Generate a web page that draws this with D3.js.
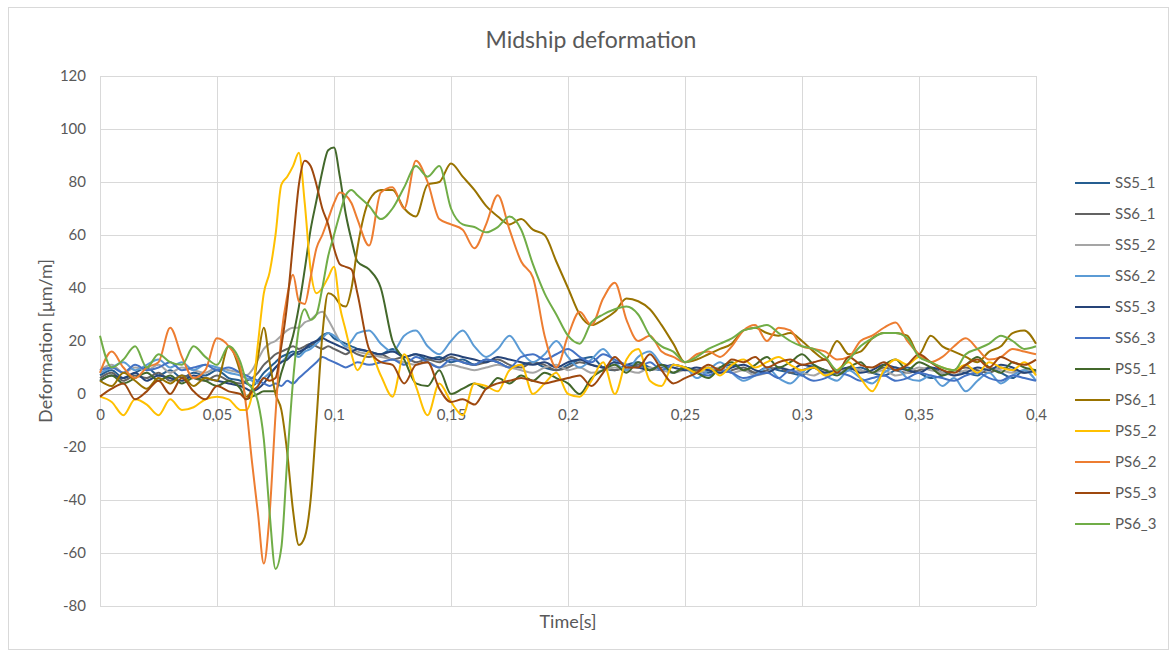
<!DOCTYPE html>
<html>
<head>
<meta charset="utf-8">
<script src="https://cdn.jsdelivr.net/npm/d3@7"></script>
<style>
  body { margin: 0; background: #fff; }
  svg { display: block; font-family: Lato, "Open Sans", sans-serif; }
  .tick text { fill: #595959; }
</style>
</head>
<body>
<svg id="chart" width="1169" height="651"></svg>
<script>
// sample times [s]
const time = [0, 0.005, 0.01, 0.015, 0.02, 0.025, 0.03, 0.035, 0.04, 0.045, 0.05, 0.055, 0.06,
  0.0625, 0.065, 0.0675, 0.07, 0.0725, 0.075, 0.0775, 0.08, 0.0825, 0.085, 0.0875, 0.09, 0.0925, 0.095, 0.0975, 0.1, 0.1025, 0.105, 0.1075, 0.11,
  0.115, 0.12, 0.125, 0.13, 0.135, 0.14, 0.145, 0.15, 0.155, 0.16, 0.165, 0.17, 0.175, 0.18, 0.185, 0.19, 0.195, 0.2, 0.205, 0.21, 0.215, 0.22, 0.225, 0.23, 0.235, 0.24, 0.245, 0.25,
  0.255, 0.26, 0.265, 0.27, 0.275, 0.28, 0.285, 0.29, 0.295, 0.3, 0.305, 0.31, 0.315, 0.32, 0.325, 0.33, 0.335, 0.34, 0.345, 0.35, 0.355, 0.36, 0.365, 0.37, 0.375, 0.38, 0.385, 0.39, 0.395, 0.4];

// deformation [um/m], one value per sample time
const ss5_1 = [7, 9, 6, 8, 10, 7, 9, 6, 8, 7, 9, 6, 5,
  4, 3, 5, 8, 10, 12, 14, 15, 16, 15, 17, 18, 20, 22, 23, 21, 20, 19, 18, 17,
  16, 15, 17, 14, 15, 13, 14, 12, 13, 11, 13, 12, 10, 11, 12, 10, 9, 11, 13, 14, 10, 9, 11, 12, 10, 9, 11, 10,
  9, 8, 10, 11, 9, 8, 10, 9, 8, 7, 10, 9, 8, 9, 10, 8, 7, 9, 10, 8, 6, 7, 9, 8, 7, 10, 8, 6, 9, 8];
const ss6_1 = [6, 8, 5, 7, 6, 8, 5, 7, 6, 5, 7, 5, 4,
  5, 6, 8, 11, 13, 15, 16, 17, 18, 17, 18, 19, 18, 17, 18, 17, 16, 15, 16, 15,
  14, 15, 13, 14, 12, 13, 12, 14, 12, 11, 12, 13, 11, 10, 12, 11, 9, 10, 12, 11, 10, 9, 10, 11, 9, 10, 11, 10,
  9, 10, 8, 9, 10, 8, 9, 10, 8, 9, 10, 9, 8, 10, 9, 8, 10, 9, 8, 9, 10, 8, 9, 10, 9, 8, 10, 9, 8, 9];
const ss5_2 = [9, 11, 8, 10, 9, 11, 8, 10, 9, 8, 10, 9, 8,
  7, 9, 13, 17, 19, 20, 22, 24, 25, 25, 27, 28, 30, 31, 28, 24, 20, 18, 17, 16,
  15, 14, 13, 12, 11, 12, 10, 11, 10, 9, 10, 11, 10, 9, 8, 10, 11, 9, 10, 8, 9, 10, 9, 8, 10, 9, 8, 9,
  8, 9, 10, 8, 9, 7, 8, 10, 9, 8, 7, 9, 8, 10, 9, 8, 9, 7, 8, 10, 9, 8, 7, 9, 8, 10, 9, 8, 9, 8];
const ss6_2 = [8, 10, 12, 9, 11, 13, 10, 12, 9, 11, 10, 8, 7,
  6, 5, 4, 6, 8, 10, 12, 14, 15, 14, 16, 17, 19, 21, 23, 22, 20, 18, 20, 23,
  24, 19, 16, 22, 24, 18, 15, 20, 24, 18, 14, 17, 22, 16, 12, 15, 20, 14, 10, 13, 17, 12, 9, 14, 16, 11, 8, 10,
  6, 9, 12, 8, 5, 7, 10, 6, 4, 8, 11, 7, 5, 9, 6, 4, 8, 10, 6, 5, 7, 3, 6, 1, 5, 8, 4, 7, 9, 5];
const ss5_3 = [5, 7, 6, 8, 5, 7, 6, 5, 7, 6, 5, 4, 3,
  2, 1, 2, 4, 7, 10, 12, 13, 15, 16, 17, 19, 20, 21, 20, 19, 18, 17, 16, 17,
  16, 15, 16, 14, 15, 14, 13, 15, 14, 13, 12, 14, 13, 12, 11, 12, 10, 12, 13, 11, 10, 12, 11, 10, 9, 11, 10, 9,
  10, 9, 8, 10, 11, 9, 8, 10, 9, 11, 10, 8, 9, 10, 8, 9, 11, 10, 9, 8, 10, 9, 7, 8, 10, 9, 11, 10, 8, 9];
const ss6_3 = [9, 10, 8, 11, 9, 10, 12, 9, 10, 11, 9, 10, 8,
  7, 6, 5, 4, 3, 4, 3, 5, 4, 6, 8, 10, 12, 14, 13, 12, 11, 10, 11, 12,
  11, 12, 13, 11, 14, 12, 10, 13, 12, 11, 13, 12, 10, 14, 15, 13, 15, 17, 14, 12, 15, 13, 11, 10, 12, 9, 11, 10,
  8, 7, 9, 8, 6, 7, 8, 6, 9, 7, 5, 6, 8, 7, 5, 6, 7, 5, 6, 8, 7, 6, 5, 7, 8, 6, 5, 7, 6, 5];
const ps5_1 = [5, 7, 4, 6, 8, 5, 7, 4, 6, 5, 3, 5, 2,
  -2, -1, 0, 1, 1, 1, 8, 15, 22, 33, 47, 62, 73, 84, 92, 93, 82, 68, 58, 50,
  47, 40, 20, 13, 4, 3, 9, 0, 2, 4, 2, 6, 4, 7, 5, 8, 6, 4, 0, 6, 9, 11, 8, 12, 9, 11, 8, 10,
  8, 6, 10, 12, 9, 11, 14, 10, 12, 15, 11, 9, 7, 10, 12, 8, 11, 13, 9, 12, 10, 7, 9, 11, 14, 10, 8, 12, 10, 9];
const ps6_1 = [5, 3, 8, 5, 2, 6, 4, 7, 3, 6, 5, 18, 8,
  -1, 2, 14, 25, 12, 0, -6, -22, -44, -57, -54, -40, -10, 22, 38, 37, 34, 33, 40, 55,
  73, 77, 77, 70, 67, 79, 80, 87, 82, 77, 71, 67, 64, 66, 62, 60, 50, 40, 30, 26, 28, 31, 36, 35, 32, 26, 19, 12,
  13, 15, 17, 19, 24, 25, 23, 22, 23, 20, 16, 13, 20, 15, 16, 21, 23, 23, 22, 15, 22, 18, 16, 14, 12, 16, 18, 23, 24, 19];
const ps5_2 = [-1, -3, -8, -2, -4, -8, -2, -6, -5, -2, -1, -2, -6,
  -6, 0, 19, 38, 46, 60, 79, 82, 86, 91, 72, 47, 38, 40, 44, 48, 33, 24, 15, 9,
  16, 7, -1, 15, 3, -8, 4, -3, -8, 4, 3, 1, 9, 11, 0, 4, 8, 0, -1, 5, 12, 0, 13, 17, 5, 3, 11, 10,
  8, 10, 7, 11, 13, 10, 12, 14, 11, 9, 10, 7, 9, 12, 6, 1, 9, 13, 11, 14, 12, 10, 9, 11, 8, 12, 10, 9, 12, 7];
const ps6_2 = [8, 16, 10, 6, 10, 12, 25, 14, 6, 9, 21, 18, 10,
  -5, -26, -45, -64, -45, -8, 22, 37, 45, 35, 34, 44, 55, 60, 66, 72, 76, 75, 72, 66,
  56, 76, 78, 70, 88, 80, 66, 64, 62, 55, 64, 75, 62, 50, 44, 22, 10, 22, 31, 26, 36, 42, 28, 20, 22, 16, 14, 12,
  15, 16, 14, 18, 24, 26, 20, 25, 24, 18, 17, 16, 13, 14, 20, 22, 25, 27, 20, 15, 12, 14, 18, 21, 17, 13, 14, 17, 16, 15];
const ps5_3 = [-1, 2, 4, -2, 1, 5, 0, 6, 1, -2, 3, 1, 0,
  -2, 1, 3, 6, 5, 6, 18, 34, 57, 79, 88, 86, 79, 70, 64, 55, 49, 48, 47, 38,
  17, 12, 11, 4, 11, 12, 2, -3, -2, -4, 2, 4, 5, 6, 5, 4, 5, 6, 7, 3, 8, 14, 10, 10, 15, 9, 4, 6,
  8, 11, 9, 13, 12, 14, 10, 12, 13, 11, 12, 13, 8, 14, 11, 10, 12, 9, 11, 15, 12, 9, 8, 11, 13, 10, 14, 12, 11, 13];
const ps6_3 = [22, 10, 13, 18, 10, 15, 12, 11, 18, 14, 11, 18, 12,
  5, 2, -3, -17, -45, -66, -58, -25, 5, 25, 32, 28, 30, 40, 52, 60, 68, 75, 77, 75,
  71, 66, 70, 78, 86, 82, 86, 70, 64, 63, 61, 63, 67, 62, 49, 38, 30, 22, 19, 27, 30, 32, 33, 30, 22, 18, 16, 12,
  14, 17, 19, 21, 24, 25, 26, 23, 20, 18, 17, 14, 9, 13, 18, 21, 23, 23, 21, 14, 12, 10, 9, 15, 17, 19, 22, 20, 17, 18];

const seriesNames = ['SS5_1', 'SS6_1', 'SS5_2', 'SS6_2', 'SS5_3', 'SS6_3', 'PS5_1', 'PS6_1', 'PS5_2', 'PS6_2', 'PS5_3', 'PS6_3'];
const seriesValues = [ss5_1, ss6_1, ss5_2, ss6_2, ss5_3, ss6_3, ps5_1, ps6_1, ps5_2, ps6_2, ps5_3, ps6_3];
const seriesColors = ['#255E91', '#636363', '#A5A5A5', '#5B9BD5', '#264478', '#4472C4',
  '#43682B', '#997300', '#FFC000', '#ED7D31', '#9E480E', '#70AD47'];

const xTicks = [0, 0.05, 0.1, 0.15, 0.2, 0.25, 0.3, 0.35, 0.4];
const yTicks = [-80, -60, -40, -20, 0, 20, 40, 60, 80, 100, 120];

const svg = d3.select('#chart');
const plot = { left: 100, right: 1036, top: 76, bottom: 606 };

const x = d3.scaleLinear().domain([0, 0.4]).range([plot.left, plot.right]);
const y = d3.scaleLinear().domain([-80, 120]).range([plot.bottom, plot.top]);

// decimal comma and plain hyphen minus, like the source workbook
const fmt = d3.formatLocale({ decimal: ',', thousands: '.', grouping: [3], currency: ['', ''], minus: '-' }).format('~g');

// chart frame
svg.append('rect')
  .attr('x', 8.5).attr('y', 7.5)
  .attr('width', 1160).attr('height', 642)
  .attr('fill', 'none')
  .attr('stroke', '#d9d9d9');

svg.append('text')
  .attr('x', 591).attr('y', 48)
  .attr('text-anchor', 'middle')
  .attr('font-size', 23)
  .attr('fill', '#595959')
  .text('Midship deformation');

// grid
const grid = svg.append('g').attr('stroke', '#d9d9d9').attr('stroke-width', 1);
grid.selectAll('line.v')
  .data(xTicks)
  .enter()
  .append('line')
  .attr('x1', d => Math.round(x(d)) + 0.5).attr('x2', d => Math.round(x(d)) + 0.5)
  .attr('y1', plot.top).attr('y2', plot.bottom);
grid.selectAll('line.h')
  .data(yTicks)
  .enter()
  .append('line')
  .attr('x1', plot.left).attr('x2', plot.right)
  .attr('y1', d => Math.round(y(d)) + 0.5).attr('y2', d => Math.round(y(d)) + 0.5);

// axes
const yAxis = svg.append('g')
  .attr('transform', `translate(${plot.left},0)`)
  .call(d3.axisLeft(y).tickValues(yTicks).tickSize(0).tickPadding(14).tickFormat(fmt));
yAxis.select('.domain').remove();
yAxis.selectAll('text').attr('font-size', 15).attr('font-family', 'Lato, sans-serif');

const xAxis = svg.append('g')
  .attr('transform', `translate(0,${y(0)})`)
  .call(d3.axisBottom(x).tickValues(xTicks).tickSize(0).tickPadding(15).tickFormat(fmt));
xAxis.select('.domain').attr('stroke', '#bfbfbf');
xAxis.selectAll('text').attr('font-size', 15).attr('font-family', 'Lato, sans-serif');

// series
const line = d3.line()
  .x((d, i) => x(time[i]))
  .y(d => y(d))
  .curve(d3.curveMonotoneX);

svg.append('g')
  .attr('fill', 'none')
  .attr('stroke-width', 2)
  .attr('stroke-linejoin', 'round')
  .selectAll('path')
  .data(seriesValues)
  .enter()
  .append('path')
  .attr('stroke', (d, i) => seriesColors[i])
  .attr('d', line);

// axis titles
svg.append('text')
  .attr('x', 568).attr('y', 628)
  .attr('text-anchor', 'middle')
  .attr('font-size', 18)
  .attr('fill', '#595959')
  .text('Time[s]');

svg.append('text')
  .attr('transform', 'translate(52,341) rotate(-90)')
  .attr('text-anchor', 'middle')
  .attr('font-size', 18)
  .attr('fill', '#595959')
  .text('Deformation [μm/m]');

// legend
const legend = svg.append('g')
  .selectAll('g')
  .data(seriesNames)
  .enter()
  .append('g')
  .attr('transform', (d, i) => `translate(1075,${183 + i * 31})`);
legend.append('line')
  .attr('x1', 0).attr('x2', 35)
  .attr('stroke', (d, i) => seriesColors[i])
  .attr('stroke-width', 2);
legend.append('text')
  .attr('x', 40).attr('dy', '0.35em')
  .attr('font-size', 15)
  .attr('fill', '#595959')
  .text(d => d);
</script>
</body>
</html>
